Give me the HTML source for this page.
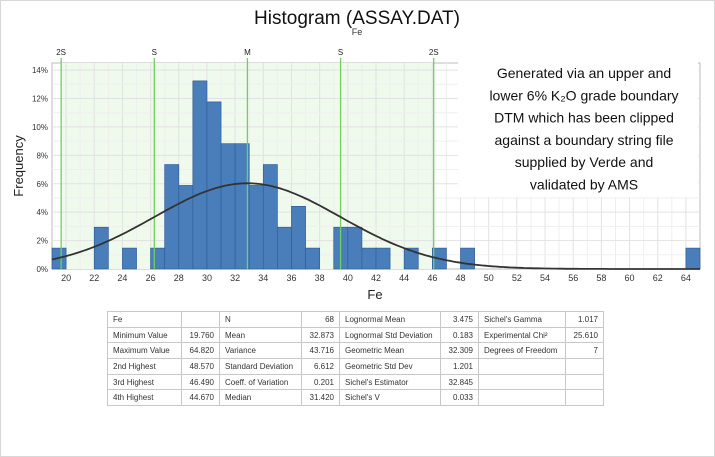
<!DOCTYPE html>
<html><head><meta charset="utf-8"><style>
body{margin:0;width:715px;height:457px;background:#fff;font-family:"Liberation Sans",sans-serif;overflow:hidden;position:relative}
#frame{position:absolute;left:0;top:0;width:713px;height:455px;border:1px solid #d8d8d8}
table{position:absolute;left:107px;top:311px;border-collapse:collapse;font-size:8px;color:#333;table-layout:fixed;width:497px}
td{border:1px solid #c8c8c8;height:14.7px;padding:0 5px;white-space:nowrap;overflow:hidden}
td.n{text-align:right}
</style></head><body>
<div id="frame"></div>
<svg id="chart" width="715" height="310" style="position:absolute;left:0;top:0"></svg>
<table>
<colgroup><col style="width:74px"><col style="width:38px"><col style="width:82px"><col style="width:38px"><col style="width:101px"><col style="width:38px"><col style="width:87px"><col style="width:38px"></colgroup>
<tr><td>Fe</td><td></td><td>N</td><td class="n">68</td><td>Lognormal Mean</td><td class="n">3.475</td><td>Sichel's Gamma</td><td class="n">1.017</td></tr>
<tr><td>Minimum Value</td><td class="n">19.760</td><td>Mean</td><td class="n">32.873</td><td>Lognormal Std Deviation</td><td class="n">0.183</td><td>Experimental Chi²</td><td class="n">25.610</td></tr>
<tr><td>Maximum Value</td><td class="n">64.820</td><td>Variance</td><td class="n">43.716</td><td>Geometric Mean</td><td class="n">32.309</td><td>Degrees of Freedom</td><td class="n">7</td></tr>
<tr><td>2nd Highest</td><td class="n">48.570</td><td>Standard Deviation</td><td class="n">6.612</td><td>Geometric Std Dev</td><td class="n">1.201</td><td></td><td></td></tr>
<tr><td>3rd Highest</td><td class="n">46.490</td><td>Coeff. of Variation</td><td class="n">0.201</td><td>Sichel's Estimator</td><td class="n">32.845</td><td></td><td></td></tr>
<tr><td>4th Highest</td><td class="n">44.670</td><td>Median</td><td class="n">31.420</td><td>Sichel's V</td><td class="n">0.033</td><td></td><td></td></tr>
</table>
<script>
const binStarts=[19,22,24,26,27,28,29,30,31,32,33,34,35,36,37,39,40,41,42,44,46,48,64];
const binFreq=[1.47,2.94,1.47,1.47,7.35,5.88,13.24,11.76,8.82,8.82,5.88,7.35,2.94,4.41,1.47,2.94,2.94,1.47,1.47,1.47,1.47,1.47,1.47];
const xTicks=[20,22,24,26,28,30,32,34,36,38,40,42,44,46,48,50,52,54,56,58,60,62,64];
const yTicks=[0,2,4,6,8,10,12,14];
const meanVal=32.873, sdVal=6.612;
const statLabels=["2S","S","M","S","2S"];
const statMult=[-2,-1,0,1,2];
const ns="http://www.w3.org/2000/svg";
const svg=document.getElementById('chart');
const X0=19,X1=65,PL=52,PR=700,PT=63,PB=269,YMAX=14.5;
const sx=v=>PL+(v-X0)/(X1-X0)*(PR-PL);
const sy=v=>PB-v/YMAX*(PB-PT);
function el(t,a,p){const e=document.createElementNS(ns,t);for(const k in a)e.setAttribute(k,a[k]);(p||svg).appendChild(e);return e;}
let e;
e=el('text',{x:357,y:24,'text-anchor':'middle','font-size':19,fill:'#111'});e.textContent='Histogram (ASSAY.DAT)';


e=el('text',{x:357,y:35,'text-anchor':'middle','font-size':9,fill:'#333'});e.textContent='Fe';


e=el('rect',{x:PL,y:PT,width:PR-PL,height:PB-PT,fill:'#fff',stroke:'#bbb'});


e=el('rect',{x:sx(meanVal-2*sdVal),y:PT,width:sx(meanVal+2*sdVal)-sx(meanVal-2*sdVal),height:PB-PT,fill:'#eff9ec'});


for(let v=X0+1;v<X1;v++){e=el('line',{x1:sx(v),x2:sx(v),y1:PT,y2:PB,stroke:v%2==0?'#e2e2e2':'#efefef','stroke-width':1});

}
for(let v=1;v<=14;v++){e=el('line',{x1:PL,x2:PR,y1:sy(v),y2:sy(v),stroke:v%2==0?'#e2e2e2':'#efefef'});

}
binStarts.forEach((s,i)=>{const b=el('rect',{x:sx(s),y:sy(binFreq[i]),width:sx(s+1)-sx(s),height:PB-sy(binFreq[i]),fill:'#4a7ebb',stroke:'#2f5f98','stroke-width':0.7});

});
statMult.forEach((m,i)=>{const v=meanVal+m*sdVal;
e=el('line',{x1:sx(v),x2:sx(v),y1:58,y2:PB,stroke:'#6fcf5f','stroke-width':1.3});


e=el('text',{x:sx(v),y:55,'text-anchor':'middle','font-size':8,fill:'#222'});e.textContent=statLabels[i];

});
let d='';for(let v=X0;v<=X1;v+=0.25){const f=100*Math.exp(-0.5*((v-meanVal)/sdVal)**2)/(sdVal*Math.sqrt(2*Math.PI));d+=(d?'L':'M')+sx(v).toFixed(1)+','+sy(f).toFixed(1);}
e=el('path',{d:d,fill:'none',stroke:'#333','stroke-width':1.8});


yTicks.forEach(v=>{e=el('text',{x:PL-4,y:sy(v)+3,'text-anchor':'end','font-size':8,fill:'#333'});e.textContent=v+'%';

});
xTicks.forEach(v=>{e=el('text',{x:sx(v),y:PB+12,'text-anchor':'middle','font-size':9,fill:'#333'});e.textContent=v;

});
e=el('text',{x:375,y:299,'text-anchor':'middle','font-size':13,fill:'#222'});e.textContent='Fe';


e=el('text',{x:23,y:166,'text-anchor':'middle','font-size':13,fill:'#222',transform:'rotate(-90 23 166)'});e.textContent='Frequency';


const note=["Generated via an upper and","lower 6% K\u2082O grade boundary","DTM which has been clipped","against a boundary string file","supplied by Verde and","validated by AMS"];
e=el('rect',{x:458,y:62,width:240,height:135,fill:'#fff'});


note.forEach((t,i)=>{const n=el('text',{x:584,y:78+i*22.3,'text-anchor':'middle','font-size':14,fill:'#111'});n.textContent=t;

});
</script>
</body></html>
